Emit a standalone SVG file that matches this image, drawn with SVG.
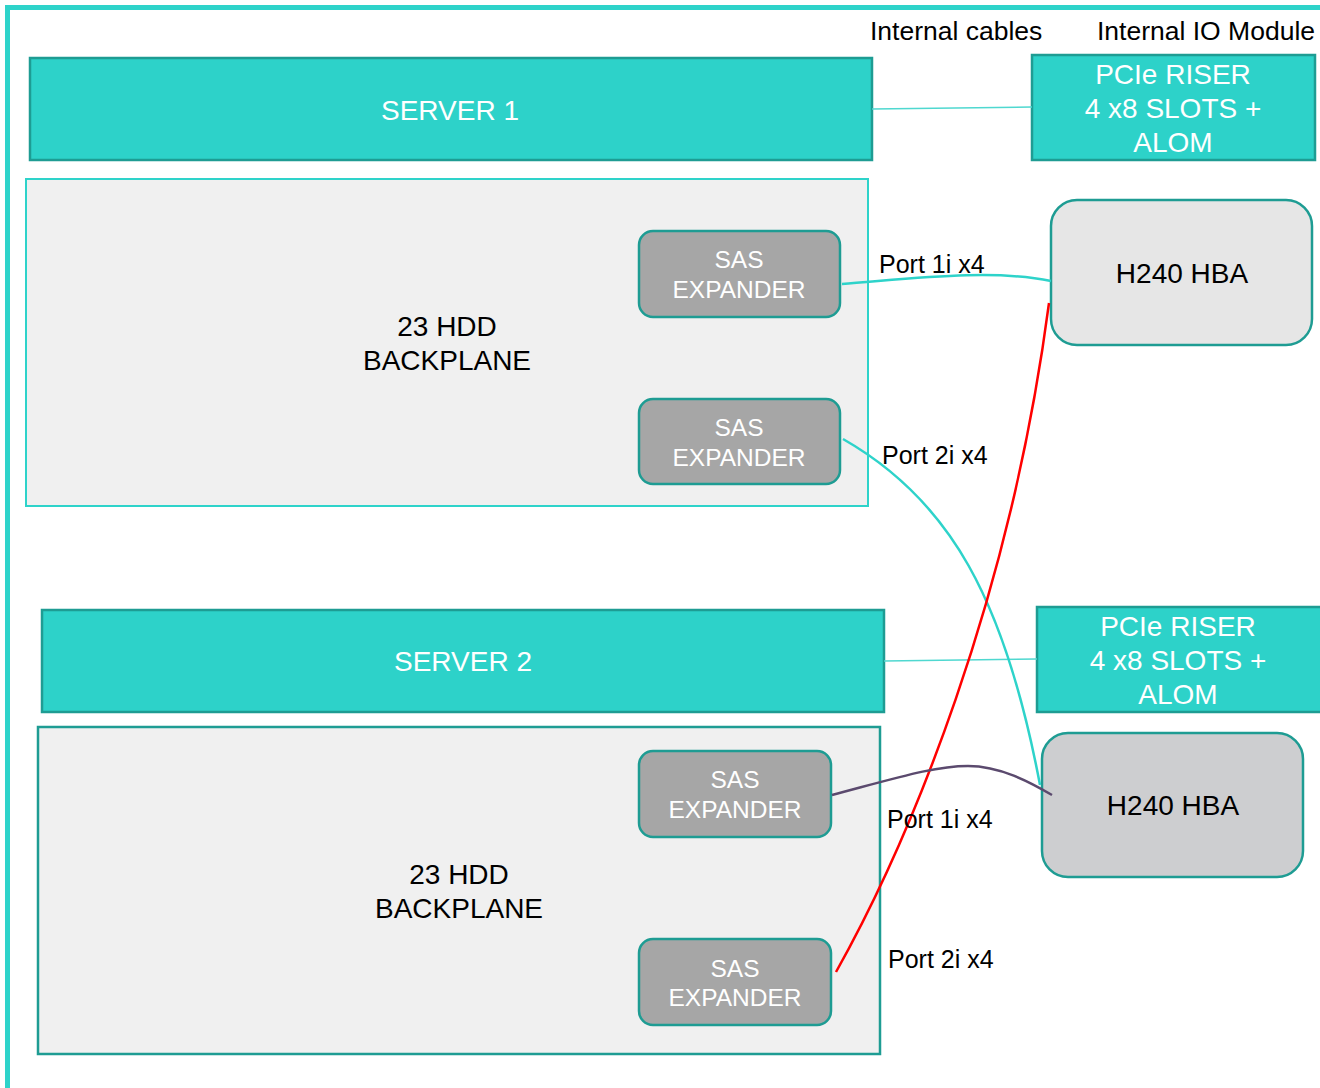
<svg xmlns="http://www.w3.org/2000/svg" width="1320" height="1088" viewBox="0 0 1320 1088">
<style>
text{font-family:"Liberation Sans",Arial,sans-serif;}
.frame{fill:none;stroke:#2ED3CA;stroke-width:5;}
.server{fill:#2DD2C9;stroke:#1E9C93;stroke-width:2.5;}
.riser{fill:#2DD2C9;stroke:#1E9C93;stroke-width:2.5;}
.bp1{fill:#F0F0F0;stroke:#2ED3CA;stroke-width:2;}
.bp2{fill:#F0F0F0;stroke:#1E9C93;stroke-width:2.5;}
.sas{fill:#A6A6A6;stroke:#1E9C93;stroke-width:2.5;}
.hba{stroke:#1E9C93;stroke-width:2.5;}
.wt{fill:#FFFFFF;text-anchor:middle;}
.bt{fill:#000000;text-anchor:middle;}
.lbl{fill:#000000;font-size:25px;}
.thin{fill:none;stroke:#4FD8D0;stroke-width:1.5;}
</style>
<rect class="frame" x="7.5" y="7.5" width="1340" height="1110"/>
<text class="lbl" x="870" y="40" style="font-size:26.5px">Internal cables</text>
<text class="lbl" x="1097" y="40" style="font-size:26.5px">Internal IO Module</text>

<g id="server1"><rect class="server" x="30" y="58" width="842" height="102"/><text class="wt" x="450" y="120" font-size="28">SERVER 1</text></g>
<g id="riser1"><rect class="riser" x="1032" y="55" width="283" height="105"/>
<text class="wt" x="1173" y="84" font-size="28">PCIe RISER</text>
<text class="wt" x="1173" y="118" font-size="28">4 x8 SLOTS +</text>
<text class="wt" x="1173" y="152" font-size="28">ALOM</text></g>
<g id="backplane1"><rect class="bp1" x="26" y="179" width="842" height="327"/>
<text class="bt" x="447" y="336" font-size="28">23 HDD</text>
<text class="bt" x="447" y="370" font-size="28">BACKPLANE</text></g>
<g id="sas1"><rect class="sas" x="639" y="231" width="201" height="86" rx="14"/>
<text class="wt" x="739" y="268" font-size="24.5">SAS</text><text class="wt" x="739" y="298" font-size="24.5">EXPANDER</text></g>
<g id="sas2"><rect class="sas" x="639" y="399" width="201" height="85" rx="14"/>
<text class="wt" x="739" y="436" font-size="24.5">SAS</text><text class="wt" x="739" y="466" font-size="24.5">EXPANDER</text></g>
<g id="hba1"><rect class="hba" fill="#E6E6E6" x="1051" y="200" width="261" height="145" rx="26"/>
<text class="bt" x="1182" y="283" font-size="28">H240 HBA</text></g>

<g id="server2"><rect class="server" x="42" y="610" width="842" height="102"/><text class="wt" x="463" y="671" font-size="28">SERVER 2</text></g>
<g id="riser2"><rect class="riser" x="1037" y="607" width="286" height="105"/>
<text class="wt" x="1178" y="636" font-size="28">PCIe RISER</text>
<text class="wt" x="1178" y="670" font-size="28">4 x8 SLOTS +</text>
<text class="wt" x="1178" y="704" font-size="28">ALOM</text></g>
<g id="backplane2"><rect class="bp2" x="38" y="727" width="842" height="327"/>
<text class="bt" x="459" y="884" font-size="28">23 HDD</text>
<text class="bt" x="459" y="918" font-size="28">BACKPLANE</text></g>
<g id="sas3"><rect class="sas" x="639" y="751" width="192" height="86" rx="14"/>
<text class="wt" x="735" y="788" font-size="24.5">SAS</text><text class="wt" x="735" y="818" font-size="24.5">EXPANDER</text></g>
<g id="sas4"><rect class="sas" x="639" y="939" width="192" height="86" rx="14"/>
<text class="wt" x="735" y="977" font-size="24.5">SAS</text><text class="wt" x="735" y="1006" font-size="24.5">EXPANDER</text></g>
<g id="hba2"><rect class="hba" fill="#CDCED0" x="1042" y="733" width="261" height="144" rx="26"/>
<text class="bt" x="1173" y="815" font-size="28">H240 HBA</text></g>

<g id="connectors">
<path class="thin" d="M872,109 L1032,107"/>
<path class="thin" d="M884,661 L1037,659"/>
<path fill="none" stroke="#2ED3CA" stroke-width="2.5" d="M842,284 C900,280 990,268 1051,281"/>
<path fill="none" stroke="#2ED3CA" stroke-width="2.5" d="M843,439 C950,500 1005,600 1040,785"/>
<path fill="none" stroke="#FF0000" stroke-width="2.5" d="M836,972 C910,840 1010,600 1049,303"/>
<path fill="none" stroke="#5B4A6E" stroke-width="2.5" d="M832,795 C900,777 935,766 968,766 C1000,766 1030,782 1052,795"/>
</g>
<g id="labels">
<text class="lbl" x="879" y="273">Port 1i x4</text>
<text class="lbl" x="882" y="464">Port 2i x4</text>
<text class="lbl" x="887" y="828">Port 1i x4</text>
<text class="lbl" x="888" y="968">Port 2i x4</text>
</g>
</svg>
